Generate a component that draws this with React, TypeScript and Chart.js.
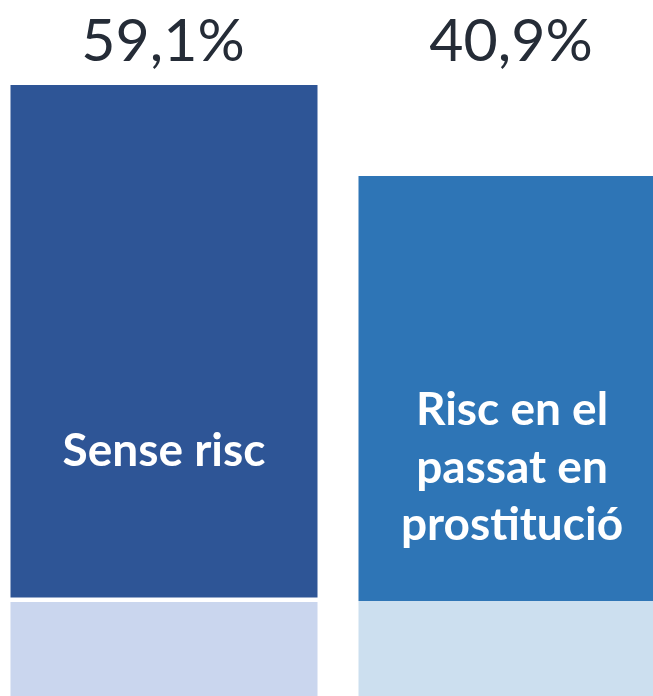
import React, { useEffect, useRef } from "react";
import { Chart, registerables } from "chart.js";

Chart.register(...registerables);

const categories = ["Sense risc", "Risc en el passat en prostitució"];
const innerLabels: string[][] = [["Sense risc"], ["Risc en el", "passat en", "prostitució"]];
const percentLabels = ["59,1%", "40,9%"];
const shareValues = [59.1, 40.9];
const barBase = [-43.4, -44.1];
const lowerBandTop = [-44.3, -44.1];
const axisMin = -63.1;
const axisMax = 76.1;

const darkColors = ["#2E5596", "#2E75B6"];
const lightColors = ["#CAD6EE", "#CCDFEF"];

const labelPlugin = {
  id: "barLabels",
  afterDatasetsDraw(chart: any) {
    const ctx = chart.ctx;
    const meta = chart.getDatasetMeta(1);
    ctx.save();
    ctx.textAlign = "center";
    ctx.textBaseline = "alphabetic";
    meta.data.forEach((bar: any, i: number) => {
      const x = bar.x;
      ctx.fillStyle = "#252C37";
      ctx.font = "400 59px Lato";
      ctx.fillText(percentLabels[i], x - 1, 61);
      ctx.fillStyle = "#FFFFFF";
      ctx.font = "700 46px Lato";
      const lines = innerLabels[i];
      const lh = 57.5;
      const baselines = i === 0 ? [466] : [425, 425 + lh, 425 + 2 * lh];
      lines.forEach((ln, j) => ctx.fillText(ln, x, baselines[j]));
    });
    ctx.restore();
  },
};

export default function App() {
  const ref = useRef<HTMLCanvasElement | null>(null);
  useEffect(() => {
    document.body.style.margin = "0";
    document.body.style.overflow = "hidden";
    document.documentElement.style.overflow = "hidden";
    const chart = new Chart(ref.current as HTMLCanvasElement, {
      type: "bar",
      data: {
        labels: categories,
        datasets: [
          {
            label: "base",
            data: lowerBandTop.map((t) => [axisMin, t]) as any,
            backgroundColor: lightColors,
            grouped: false,
            barPercentage: 1,
            categoryPercentage: 307 / 348,
            borderWidth: 0,
          },
          {
            label: "share",
            data: shareValues.map((v, i) => [barBase[i], v]) as any,
            backgroundColor: darkColors,
            grouped: false,
            barPercentage: 1,
            categoryPercentage: 307 / 348,
            borderWidth: 0,
          },
        ],
      },
      options: {
        animation: false,
        responsive: true,
        maintainAspectRatio: false,
        layout: { padding: 0 },
        plugins: { legend: { display: false }, tooltip: { enabled: false } },
        scales: {
          x: { display: false },
          y: { display: false, min: axisMin, max: axisMax },
        },
      },
      plugins: [labelPlugin],
    });
    return () => chart.destroy();
  }, []);
  return (
    <div style={{ position: "fixed", left: 0, top: 0, width: 653, height: 696, overflow: "hidden", background: "#fff" }}>
      <div style={{ position: "absolute", left: -10.5, top: 0, width: 696, height: 696 }}>
        <canvas ref={ref} />
      </div>
    </div>
  );
}
